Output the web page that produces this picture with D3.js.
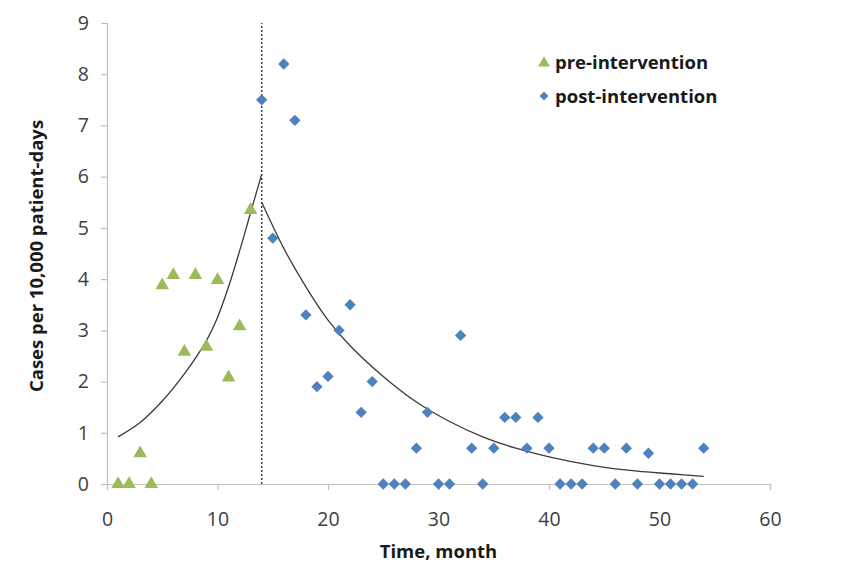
<!DOCTYPE html>
<html>
<head>
<meta charset="utf-8">
<script src="https://cdn.jsdelivr.net/npm/d3@7"></script>
<style>
  body { margin: 0; background: #fff; }
  svg text { font-family: "Open Sans", sans-serif; }
</style>
</head>
<body>
<svg id="chart"></svg>
<script>
// months and rates
const preMonths = [1, 2, 3, 4, 5, 6, 7, 8, 9, 10, 11, 12, 13]
const preValues = [0, 0, 0.6, 0, 3.88, 4.08, 2.58, 4.08, 2.68, 3.98, 2.08, 3.08, 5.35]

const postMonths = [14, 15, 16, 17, 18, 19, 20, 21, 22, 23, 24, 25, 26, 27, 28, 29, 30, 31, 32, 33, 34,
  35, 36, 37, 38, 39, 40, 41, 42, 43, 44, 45, 46, 47, 48, 49, 50, 51, 52, 53, 54]
const postValues = [7.5, 4.8, 8.2, 7.1, 3.3, 1.9, 2.1, 3.0, 3.5, 1.4, 2.0, 0, 0, 0, 0.7, 1.4, 0, 0, 2.9, 0.7, 0,
  0.7, 1.3, 1.3, 0.7, 1.3, 0.7, 0, 0, 0, 0.7, 0.7, 0, 0.7, 0, 0.6, 0, 0, 0, 0, 0.7]

// fitted trend lines as drawn in the figure
const preTrendMonths = [1, 3, 5, 7, 9, 10, 11, 12, 13, 14]
const preTrendValues = [0.92, 1.2, 1.62, 2.15, 2.8, 3.25, 3.85, 4.55, 5.3, 6.05]
const postTrendMonths = [14, 16, 18, 20, 22, 25, 28, 31, 34, 37, 40, 44, 48, 51, 54]
const postTrendValues = [5.5, 4.6, 3.85, 3.2, 2.7, 2.1, 1.6, 1.22, 0.92, 0.7, 0.53, 0.36, 0.25, 0.2, 0.15]

const interventionMonth = 14
const xTicks = [0, 10, 20, 30, 40, 50, 60]
const yTicks = [0, 1, 2, 3, 4, 5, 6, 7, 8, 9]

const width = 846
const height = 570

const svg = d3.select('#chart')
  .attr('width', width)
  .attr('height', height)

const x = d3.scaleLinear().domain([0, 60]).range([107, 770])
const y = d3.scaleLinear().domain([0, 9]).range([484, 23])

const axisColor = '#bfbfbf'
const textColor = '#404040'

// y axis
const yAxis = svg.append('g')
  .attr('transform', `translate(${x(0)},0)`)
  .call(d3.axisLeft(y).tickValues(yTicks).tickSize(6).tickPadding(12))
yAxis.select('.domain').attr('stroke', axisColor).attr('stroke-width', 1.2)
yAxis.selectAll('.tick line').attr('stroke', axisColor).attr('stroke-width', 1.2)
yAxis.selectAll('.tick text')
  .attr('fill', textColor)
  .style('font-size', '19.5px')

// x axis
const xAxis = svg.append('g')
  .attr('transform', `translate(0,${y(0)})`)
  .call(d3.axisBottom(x).tickValues(xTicks).tickSize(6).tickPadding(22))
xAxis.select('.domain').attr('stroke', axisColor).attr('stroke-width', 1.2)
xAxis.selectAll('.tick line').attr('stroke', axisColor).attr('stroke-width', 1.2)
xAxis.selectAll('.tick text')
  .attr('fill', textColor)
  .style('font-size', '19.5px')

// axis titles
svg.append('text')
  .attr('x', (x(0) + x(60)) / 2)
  .attr('y', 558)
  .attr('text-anchor', 'middle')
  .style('font-size', '18.5px')
  .style('font-weight', 'bold')
  .attr('fill', '#1a1a1a')
  .text('Time, month')

svg.append('text')
  .attr('transform', 'translate(43,256) rotate(-90)')
  .attr('text-anchor', 'middle')
  .style('font-size', '18.5px')
  .style('font-weight', 'bold')
  .attr('fill', '#1a1a1a')
  .text('Cases per 10,000 patient-days')

// intervention marker
svg.append('line')
  .attr('x1', x(interventionMonth))
  .attr('x2', x(interventionMonth))
  .attr('y1', y(0))
  .attr('y2', y(9))
  .attr('stroke', '#404040')
  .attr('stroke-width', 1.5)
  .attr('stroke-dasharray', '2,2')

// trend lines
const line = d3.line()
  .x(d => x(d[0]))
  .y(d => y(d[1]))
  .curve(d3.curveCatmullRom)

svg.append('path')
  .attr('d', line(d3.zip(preTrendMonths, preTrendValues)))
  .attr('fill', 'none')
  .attr('stroke', '#3a3a3a')
  .attr('stroke-width', 1.3)

svg.append('path')
  .attr('d', line(d3.zip(postTrendMonths, postTrendValues)))
  .attr('fill', 'none')
  .attr('stroke', '#3a3a3a')
  .attr('stroke-width', 1.3)

// markers
const green = '#9bbb59'
const blue = '#4f81bd'
const triangle = d3.symbol().type(d3.symbolTriangle).size(80)
const diamond = d3.symbol().type(d3.symbolSquare).size(64)

svg.append('g').selectAll('path')
  .data(d3.zip(preMonths, preValues))
  .enter().append('path')
  .attr('d', triangle)
  .attr('transform', d => `translate(${x(d[0])},${y(d[1])})`)
  .attr('fill', green)

svg.append('g').selectAll('path')
  .data(d3.zip(postMonths, postValues))
  .enter().append('path')
  .attr('d', diamond)
  .attr('transform', d => `translate(${x(d[0])},${y(d[1])}) rotate(45)`)
  .attr('fill', blue)

// legend
const legend = svg.append('g')
legend.append('path')
  .attr('d', d3.symbol().type(d3.symbolTriangle).size(60))
  .attr('transform', 'translate(544,63)')
  .attr('fill', green)
legend.append('path')
  .attr('d', d3.symbol().type(d3.symbolSquare).size(40))
  .attr('transform', 'translate(544,96) rotate(45)')
  .attr('fill', blue)
legend.append('text')
  .attr('x', 555).attr('y', 69)
  .style('font-size', '18.5px').style('font-weight', 'bold')
  .attr('fill', '#1a1a1a')
  .text('pre-intervention')
legend.append('text')
  .attr('x', 555).attr('y', 103)
  .style('font-size', '18.5px').style('font-weight', 'bold')
  .attr('fill', '#1a1a1a')
  .text('post-intervention')
</script>
</body>
</html>
